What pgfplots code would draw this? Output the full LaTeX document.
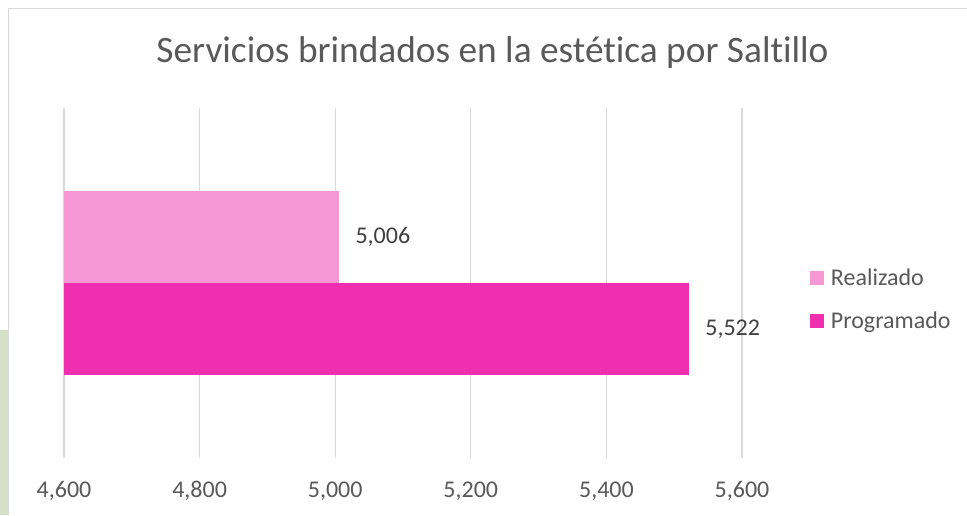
\documentclass[border=0pt]{standalone}
\usepackage{fontspec}
\setmainfont{Carlito}[Ligatures={NoCommon}]
\usepackage{pgfplots}
\pgfplotsset{compat=1.18}
\definecolor{realiz}{HTML}{F797D4}
\definecolor{prog}{HTML}{F02FB0}
\definecolor{txt}{HTML}{595959}
\definecolor{lbl}{HTML}{404040}
\definecolor{gridc}{HTML}{D9D9D9}
\definecolor{greenbg}{HTML}{D5E0C8}
\begin{document}
\begin{tikzpicture}
\path[use as bounding box] (0,0) rectangle (725.25pt,386.25pt);
\fill[white] (0,0) rectangle (725.25pt,386.25pt);
\fill[greenbg] (0,0) rectangle (6pt,138.75pt);
\draw[gridc, line width=0.75pt] (6.4pt,0) -- (6.4pt,379.5pt) -- (726pt,379.5pt);
\node[text=txt, font=\fontsize{28}{32}\selectfont, anchor=base, inner sep=0pt] at (369.4pt,339pt) {Servicios brindados en la estética por Saltillo};
\begin{axis}[
  at={(48pt,42.75pt)}, anchor=south west,
  scale only axis, width=508.5pt, height=262.5pt,
  xmin=4600, xmax=5600, ymin=-0.5, ymax=0.5,
  xbar, bar width=0.26286,
  axis line style={draw=none},
  ytick=\empty, major tick length=0pt,
  xtick={4600,4800,5000,5200,5400,5600},
  xticklabels={{4,600},{4,800},{5,000},{5,200},{5,400},{5,600}},
  xticklabel style={anchor=base, yshift=-29.25pt, text=txt, font=\fontsize{18}{21}\selectfont},
  xmajorgrids, grid style={gridc, line width=0.9pt},
  point meta=explicit symbolic,
  nodes near coords,
  nodes near coords style={anchor=west, inner sep=0pt, xshift=12pt, text=lbl, font=\fontsize{18}{21}\selectfont},
  legend cell align=left,
  legend image code/.code={\fill[#1] (0pt,-5.2pt) rectangle (10.5pt,5.2pt);},
  legend style={at={(1,0.453)}, anchor=west, xshift=51pt, draw=none, fill=none, inner sep=0pt,
    font=\fontsize{18}{21}\selectfont, text=txt, row sep=18.5pt, column sep=5pt,
    nodes={inner sep=0pt}},
]
\addplot[fill=realiz, draw=none, bar shift=0.13143] coordinates {(5006,0) [5,006]};
\addlegendentry{Realizado}
\addplot[fill=prog, draw=none, bar shift=-0.13143] coordinates {(5522,0) [5,522]};
\addlegendentry{Programado}
\end{axis}
\end{tikzpicture}
\end{document}
